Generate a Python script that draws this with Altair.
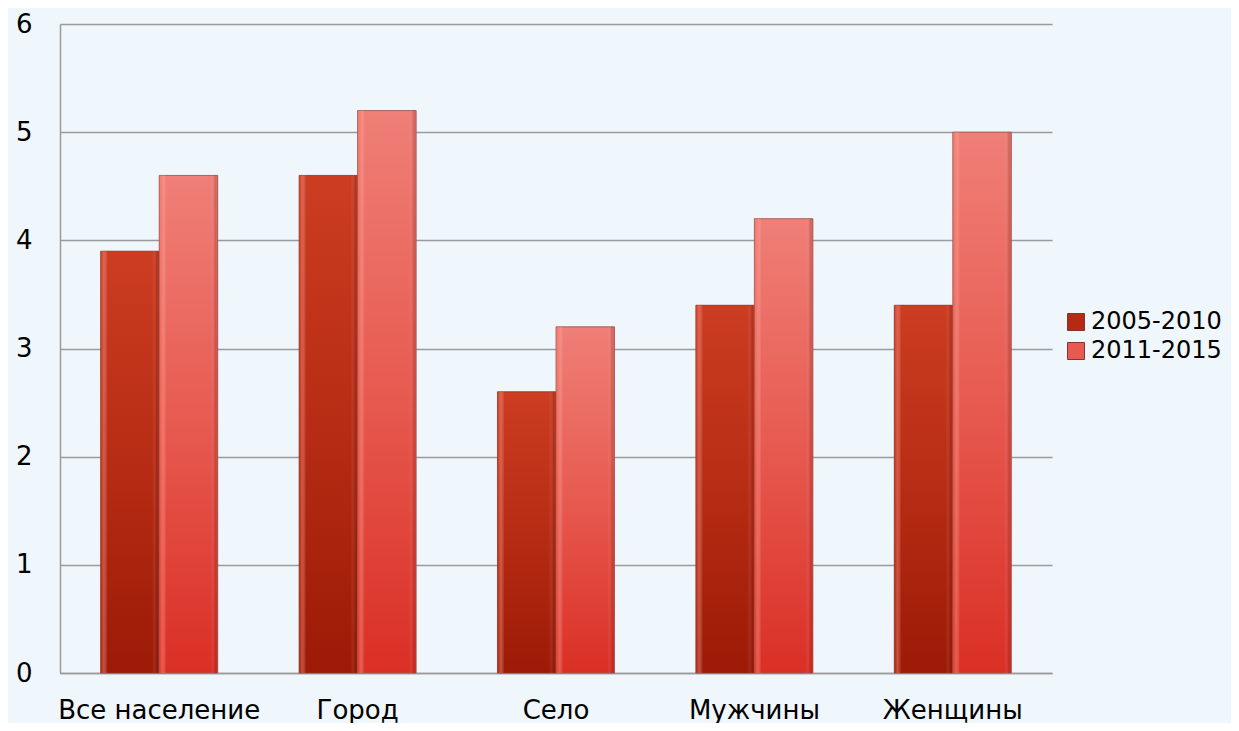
import altair as alt
import pandas as pd

categories = ["Все население", "Город", "Село", "Мужчины", "Женщины"]
series = ["2005-2010", "2011-2015"]
values_2005_2010 = [3.9, 4.6, 2.6, 3.4, 3.4]
values_2011_2015 = [4.6, 5.2, 3.2, 4.2, 5.0]
y_ticks = [0, 1, 2, 3, 4, 5, 6]

rows = []
for c, v in zip(categories, values_2005_2010):
    rows.append({"cat": c, "period": series[0], "value": v})
for c, v in zip(categories, values_2011_2015):
    rows.append({"cat": c, "period": series[1], "value": v})
df = pd.DataFrame(rows)

FONT = "DejaVu Sans"

x_enc = alt.X("cat:N", sort=categories, title=None,
              scale=alt.Scale(paddingInner=0.41, paddingOuter=0.205),
              axis=alt.Axis(labelAngle=0, labelFontSize=26, labelFont=FONT,
                            labelColor="#000000", labelPadding=24, ticks=False,
                            labelLimit=0,
                            domainColor="#9a9a9a", domainWidth=1.5, grid=False))
y_enc = alt.Y("value:Q", title=None,
              scale=alt.Scale(domain=[0, 6], nice=False),
              axis=alt.Axis(values=y_ticks, labelFontSize=26, labelFont=FONT,
                            labelColor="#000000", labelPadding=28, ticks=False,
                            domainColor="#9a9a9a", domainWidth=1.5,
                            gridColor="#9a9a9a", gridWidth=1.5))
xo_enc = alt.XOffset("period:N", sort=series,
                     scale=alt.Scale(domain=series, paddingInner=0, paddingOuter=0))

base = alt.Chart(df).mark_bar().encode(
    x=x_enc, y=y_enc, xOffset=xo_enc,
    color=alt.Color("period:N", sort=series,
                    scale=alt.Scale(domain=series, range=["#b42a12", "#e85a50"]),
                    legend=alt.Legend(title=None, orient="none", legendX=1004, legendY=286,
                                      symbolType="square", symbolSize=289,
                                      symbolStrokeColor="#8a3030", symbolStrokeWidth=1,
                                      labelFontSize=24, labelFont=FONT, labelColor="#000000",
                                      labelOffset=3, rowPadding=5, labelLimit=0)),
)

grad_dark = alt.Gradient(gradient="linear", x1=0, y1=0, x2=0, y2=1,
                         stops=[alt.GradientStop(offset=0, color="#cc3d22"),
                                alt.GradientStop(offset=0.5, color="#b72c14"),
                                alt.GradientStop(offset=1, color="#9c1a06")])
grad_light = alt.Gradient(gradient="linear", x1=0, y1=0, x2=0, y2=1,
                          stops=[alt.GradientStop(offset=0, color="#ef7f77"),
                                 alt.GradientStop(offset=0.5, color="#e75a50"),
                                 alt.GradientStop(offset=1, color="#da2f25")])

dark = alt.Chart(df).transform_filter(alt.datum.period == series[0]).mark_bar(
    fill=grad_dark, stroke="#8a3a30", strokeWidth=1, strokeOpacity=0.7
).encode(x=x_enc, y=y_enc, xOffset=xo_enc)

light = alt.Chart(df).transform_filter(alt.datum.period == series[1]).mark_bar(
    fill=grad_light, stroke="#9a5a55", strokeWidth=1, strokeOpacity=0.8
).encode(x=x_enc, y=y_enc, xOffset=xo_enc)

bevel = alt.Gradient(gradient="linear", x1=0, y1=0, x2=1, y2=0,
                     stops=[alt.GradientStop(offset=0, color="rgba(255,120,100,0.1)"),
                            alt.GradientStop(offset=0.05, color="rgba(255,140,120,0.45)"),
                            alt.GradientStop(offset=0.12, color="rgba(255,255,255,0)"),
                            alt.GradientStop(offset=0.88, color="rgba(255,255,255,0)"),
                            alt.GradientStop(offset=0.96, color="rgba(120,20,10,0.25)"),
                            alt.GradientStop(offset=1, color="rgba(120,20,10,0.1)")])
shine = alt.Chart(df).mark_bar(fill=bevel).encode(x=x_enc, y=y_enc, xOffset=xo_enc)

chart = alt.layer(base, dark, light, shine).properties(
    width=992, height=649,
    padding={"left": 52, "top": 16, "right": 179, "bottom": 50},
    autosize=alt.AutoSizeParams(type="none"),
    background="#eff6fc",
).configure_view(stroke=None)

chart.save("out.html", embed_options={"renderer": "svg", "actions": False})
